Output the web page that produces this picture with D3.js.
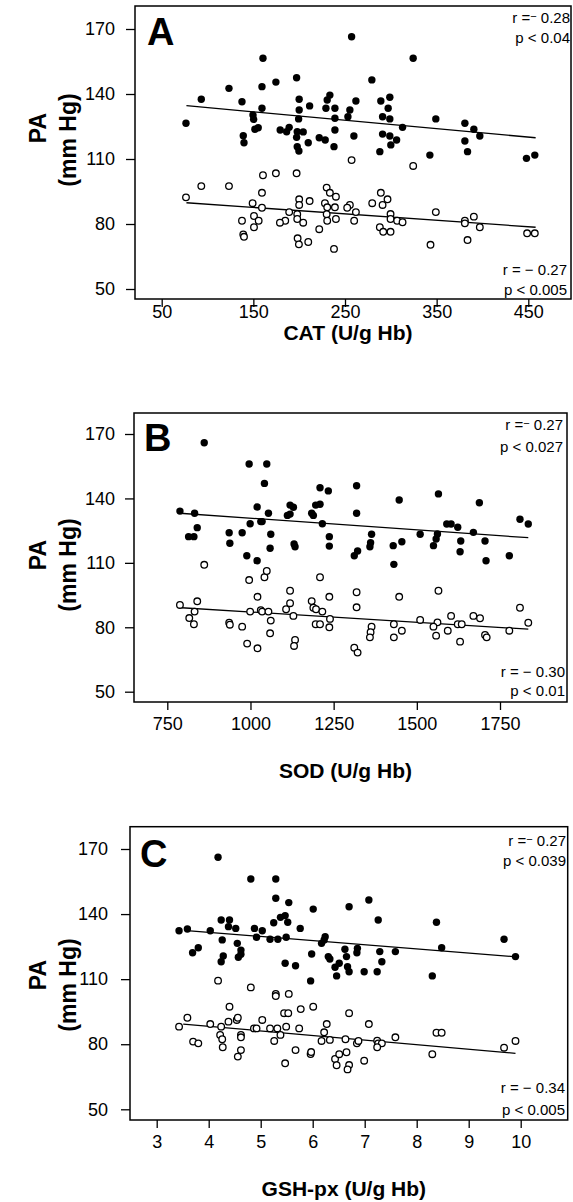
<!DOCTYPE html>
<html>
<head>
<meta charset="utf-8">
<script src="https://cdn.jsdelivr.net/npm/d3@7/dist/d3.min.js"></script>
<style>
  html, body { margin: 0; padding: 0; background: #fff; }
  svg { display: block; }
  text { font-family: "Liberation Sans", Arial, Helvetica, sans-serif; fill: #000; }
</style>
</head>
<body>
<svg id="chart" width="573" height="1202"></svg>
<script>
// Pulse amplitude (PA) against antioxidant enzyme activity.
// Filled dots: upper PA group, open circles: lower PA group.

const yTicks = [50, 80, 110, 140, 170];
const catTicks = [50, 150, 250, 350, 450];
const sodTicks = [750, 1000, 1250, 1500, 1750];
const gshTicks = [3, 4, 5, 6, 7, 8, 9, 10];

// CAT (U/g Hb) vs PA (mm Hg)
const catHigh = [
  [76.5,126.5],[93.2,137.6],[123.4,142.6],[137.6,136.4],[160.5,156.5],[159.4,143.4],[159.4,133.4],
  [149.6,130.3],[150.3,128.3],[151.7,123.7],[155.3,124.4],[139,120.7],[139.8,117.5],[174.6,145.5],
  [197.2,147.5],[200,137.6],[200,132.6],[199.4,128.5],[211.4,134.5],[179.3,123.4],[186.3,122.6],
  [189.1,124.6],[197.9,122.6],[204.4,122.5],[197.2,120],[197.9,115.7],[199.7,113.7],[209.9,117.5],
  [221.9,119.8],[228.4,118.8],[233.5,139.5],[230.6,137.2],[229.2,133.4],[239,133.4],[261.9,136.8],
  [255.3,132.6],[253.2,129.5],[239,128.8],[239,123.4],[257.2,166.4],[324.4,156.5],[279.3,146.5],
  [289.1,136.8],[298.9,138.5],[297.1,133.4],[291,129.5],[298.9,128.5],[312.8,124.6],[349.1,128.5],
  [380.8,126.5],[390.6,123.7],[397.1,120.6],[380.8,118.3],[383.7,113.4],[291,121.5],[298.9,120.6],
  [306.3,118.8],[300,116.5],[288,113.4],[259.7,120.6],[238,115.7],[342.6,111.8],[448,110.3],[457.1,111.8]
];
const catLow = [
  [76.5,92.3],[93.2,97.5],[123.4,97.5],[137.6,81.5],[139,75.2],[139.8,74.1],[149.2,89.6],[150.7,83.7],
  [155.8,81.5],[150.7,78.5],[159.4,94.4],[160.5,102.5],[159.4,87.5],[174.6,103.4],[197.2,103.4],
  [200,91.4],[200,88.8],[189.1,85.5],[197.9,84.5],[197.9,82.3],[204.4,80.6],[184.8,81.5],[179,80.6],
  [211.4,90.6],[198.3,73.4],[199.7,70.6],[209.9,71.7],[221.9,77.6],[230,96.8],[233.5,94.4],[240.1,92.6],
  [228.1,89.6],[230.6,87.7],[239,87.7],[230,84.5],[240.1,82.3],[230.6,81.5],[238,68.5],[255.3,88.8],
  [252.4,87.5],[261.9,85.5],[260,81.5],[257.2,109.5],[324.4,106.8],[289.1,94.4],[296.4,91.4],
  [279.7,89.6],[291,88.8],[299.7,84.6],[299.7,82.3],[306.9,81.5],[312.8,80.8],[288,78.5],[291.7,76.4],
  [299.7,76.4],[349.1,85.5],[343.3,70.4],[380.8,81.5],[380.8,80.3],[390.6,83.4],[397.1,78.5],
  [383.7,72.6],[448.7,75.7],[457.1,75.7]
];
const catFitHigh = [[77, 134.6], [458, 119.8]];
const catFitLow = [[77, 89.8], [458, 78.5]];

// SOD (U/g Hb) vs PA (mm Hg)
const sodHigh = [
  [861,165.9],[788,134.1],[832,133.1],[840,126.4],[814,122.2],[830,122.2],[936,124],[938,119.1],
  [975,124],[996,156],[1049,156],[1042,147],[1020,136],[999,128.2],[1031,129.2],[1035,129.2],
  [1054,133.1],[1061,123.3],[1059,116.8],[1119,136.9],[1129,135.9],[1111,132.1],[1119,132.7],
  [1131,118.8],[1134,117.5],[1209,145],[1196,136.9],[1209,137.3],[1184,133.1],[1189,132.1],
  [1216,128.2],[1234,143.5],[1237,122.2],[1237,117.8],[989,113.3],[1020,111],[1319,145.9],
  [1319,133.1],[1447,139.3],[1565,142.1],[1688,138],[1810,130.3],[1835,128.1],[1364,123.3],
  [1361,119.4],[1359,117.5],[1322,115.5],[1312,113.3],[1429,118],[1455,119.8],[1510,123.3],
  [1562,123.4],[1558,121.1],[1550,118],[1590,128.1],[1603,128.1],[1623,126.6],[1632,120.2],
  [1670,124.2],[1705,120.2],[1431,109.3],[1630,115.2],[1708,111],[1778,113.3]
];
const sodLow = [
  [788,90.4],[832,87.3],[816,84.3],[830,81.4],[840,92.1],[861,109.1],[936,82.1],[938,81.2],[975,80.3],
  [996,102],[999,87.3],[990,72.4],[1021,70.2],[1021,94.2],[1042,103.3],[1049,106.2],[1031,88],
  [1035,87.3],[1054,87.3],[1061,83.1],[1059,77.2],[1107,88.4],[1119,91.2],[1119,97],[1129,85.3],
  [1134,74.1],[1131,71.3],[1209,103.3],[1184,92.2],[1189,89.1],[1197,88.4],[1216,87.3],[1196,81.4],
  [1209,81.4],[1237,94.2],[1239,83.9],[1237,80],[1319,96.3],[1319,89.3],[1312,70.5],[1322,68.2],
  [1364,80.3],[1361,77.7],[1359,75.3],[1447,94.2],[1431,81.4],[1455,78.4],[1431,75.3],[1510,83.4],
  [1565,97],[1562,82.3],[1550,80.3],[1558,76.1],[1593,78.4],[1603,85.3],[1623,81.4],[1635,81.4],
  [1630,73.3],[1670,85.3],[1690,84.2],[1705,76.4],[1710,75.3],[1778,78.4],[1810,89.1],[1835,82.1]
];
const sodFitHigh = [[788, 133.1], [1835, 121.7]];
const sodFitLow = [[793, 89.1], [1835, 79.1]];

// GSH-px (U/g Hb) vs PA (mm Hg)
const gshHigh = [
  [4.18,166.2],[4.81,156.2],[5.29,156.2],[5.29,147.3],[5.54,145.3],[6.01,142.3],[3.43,132.3],
  [3.59,133.1],[4.03,132.3],[4.24,137.3],[4.40,137.3],[4.38,134.2],[4.52,133.4],[4.26,128.1],
  [3.69,122.2],[3.80,124.5],[4.55,126.5],[4.62,123.4],[4.62,121.5],[4.57,120.1],[4.28,120.7],
  [4.88,133.4],[5.03,132.3],[4.92,129.3],[5.25,136],[5.38,138.5],[5.47,139.3],[5.52,136.2],
  [5.18,128.4],[5.33,128.4],[5.49,129.3],[5.76,133.4],[5.98,121.6],[6.17,126.5],[6.24,129.6],
  [6.22,128.1],[6.30,120.4],[4.24,118],[5.47,117.3],[5.67,116.2],[5.96,109.2],[6.33,119.3],
  [6.43,115.5],[6.51,117.3],[6.46,111.5],[6.65,120.4],[6.67,115.7],[6.70,113.4],[6.85,122.2],
  [6.99,113.4],[7.24,113.4],[7.33,118],[7.29,122.7],[7.59,122.7],[8.30,111.5],[9.90,120.4],
  [6.70,143.4],[7.08,146.5],[7.26,137.3],[8.38,136.2],[9.68,128.4],[6.62,123.8],[6.86,124.2],[8.48,124.5]
];
const gshLow = [
  [3.43,88.1],[3.59,92.2],[4.03,89.3],[4.18,109.3],[4.24,88.1],[4.22,84.3],[4.26,82.3],[4.27,78.6],
  [3.70,81.2],[3.80,80.4],[4.40,97.3],[4.38,90.4],[4.54,91.2],[4.56,92.2],[4.62,84.3],[4.62,83.2],
  [4.62,77.3],[4.56,74.3],[4.81,106.2],[4.87,87.3],[4.92,87.3],[5.03,91.2],[5.18,87.3],[5.32,87.3],
  [5.38,84.3],[5.49,88.1],[5.26,81.5],[5.29,103.2],[5.29,102.2],[5.54,103.2],[5.45,94.3],[5.53,94.3],
  [5.47,71.2],[5.67,77.3],[5.74,87.3],[5.77,96.2],[6.01,97.3],[5.96,75.5],[5.97,76.4],[6.17,81.5],
  [6.22,85.5],[6.27,89.3],[6.33,82],[6.43,73.2],[6.51,75.4],[6.46,70.3],[6.63,82.3],[6.65,76.3],
  [6.70,94.3],[6.70,70.4],[6.67,68.4],[6.85,80.4],[6.88,81.5],[6.99,72.4],[7.08,89.3],[7.24,81.6],
  [7.26,80.4],[7.33,80.4],[7.24,78.6],[7.59,83.2],[8.30,75.4],[8.38,85.3],[8.48,85.3],[9.68,78.4],[9.90,81.5]
];
const gshFitHigh = [[3.64, 132.3], [9.86, 120.4]];
const gshFitLow = [[3.51, 89.3], [9.90, 75.8]];

// Correlation annotations: [r, p] for the upper and lower groups
const catStats = [["0.28", "p < 0.04"], ["0.27", "p < 0.005"]];
const sodStats = [["0.27", "p < 0.027"], ["0.30", "p < 0.01"]];
const gshStats = [["0.27", "p < 0.039"], ["0.34", "p < 0.005"]];

const svg = d3.select("#chart");
const TICK_FONT = 18;
const TITLE_FONT = 21;
const YTITLE_FONT = 23;
const STAT_FONT = 15;

const panels = [
  { letter: "A", title: "CAT (U/g Hb)", high: catHigh, low: catLow, fitHigh: catFitHigh, fitLow: catFitLow,
    stats: catStats, xTicks: catTicks,
    box: { l: 135, t: 6, r: 571, b: 299 }, xPix: [161.7, 528.3], yPix: [289, 29], yPad: 11,
    xLabelY: 318, xTitleY: 340, paY: 128, mmY: 140,
    statTop: [23, 43], statBot: [275, 295], statRight: [570, 567], letterPos: [147, 45] },
  { letter: "B", title: "SOD (U/g Hb)", high: sodHigh, low: sodLow, fitHigh: sodFitHigh, fitLow: sodFitLow,
    stats: sodStats, xTicks: sodTicks,
    box: { l: 134, t: 413, r: 567, b: 702 }, xPix: [167.3, 500], yPix: [691.7, 434], yPad: 10,
    xLabelY: 730, xTitleY: 778, paY: 555, mmY: 565,
    statTop: [430, 451.7], statBot: [676.7, 696], statRight: [563, 565], letterPos: [144, 451] },
  { letter: "C", title: "GSH-px (U/g Hb)", high: gshHigh, low: gshLow, fitHigh: gshFitHigh, fitLow: gshFitLow,
    stats: gshStats, xTicks: gshTicks,
    box: { l: 130, t: 826.7, r: 567.7, b: 1120 }, xPix: [156.7, 520.7], yPix: [1109.3, 849], yPad: 13,
    xLabelY: 1148, xTitleY: 1196, paY: 975, mmY: 985,
    statTop: [845.7, 865.7], statBot: [1093, 1115], statRight: [566, 565], letterPos: [140, 866.7] }
];

panels.forEach(p => {
  const xt = p.xTicks;
  const x = d3.scaleLinear().domain([xt[0], xt[xt.length - 1]]).range(p.xPix);
  const y = d3.scaleLinear().domain([yTicks[0], yTicks[yTicks.length - 1]]).range(p.yPix);
  const g = svg.append("g");
  const b = p.box;

  // frame
  g.append("rect").attr("x", b.l).attr("y", b.t).attr("width", b.r - b.l).attr("height", b.b - b.t)
    .attr("fill", "none").attr("stroke", "#000").attr("stroke-width", 1.5);

  // y axis
  const yAxis = d3.axisLeft(y).tickValues(yTicks).tickSize(9).tickPadding(p.yPad).tickFormat(d3.format("d"));
  const ya = g.append("g").attr("transform", `translate(${b.l},0)`).call(yAxis);
  ya.select(".domain").remove();
  ya.selectAll("line").attr("stroke-width", 1.3);
  ya.selectAll("text").attr("font-size", TICK_FONT).attr("font-family", "Liberation Sans, Arial, sans-serif");

  // x axis
  const xAxis = d3.axisBottom(x).tickValues(xt).tickSize(8).tickPadding(0).tickFormat(d3.format("d"));
  const xa = g.append("g").attr("transform", `translate(0,${b.b})`).call(xAxis);
  xa.select(".domain").remove();
  xa.selectAll("line").attr("stroke-width", 1.3);
  xa.selectAll("text").attr("font-size", TICK_FONT).attr("font-family", "Liberation Sans, Arial, sans-serif")
    .attr("dy", null).attr("y", p.xLabelY - b.b);

  // axis titles
  g.append("text").attr("x", (b.l + b.r) / 2 - 5).attr("y", p.xTitleY).attr("text-anchor", "middle")
    .attr("font-size", TITLE_FONT).attr("font-weight", "bold").text(p.title);
  g.append("text").attr("transform", `translate(46,${p.paY}) rotate(-90)`).attr("text-anchor", "middle")
    .attr("font-size", YTITLE_FONT).attr("font-weight", "bold").text("PA");
  g.append("text").attr("transform", `translate(76,${p.mmY}) rotate(-90)`).attr("text-anchor", "middle")
    .attr("font-size", YTITLE_FONT).attr("font-weight", "bold").text("(mm Hg)");

  // panel letter
  g.append("text").attr("x", p.letterPos[0]).attr("y", p.letterPos[1])
    .attr("font-size", 38).attr("font-weight", "bold").text(p.letter);

  // regression lines
  const line = d3.line().x(d => x(d[0])).y(d => y(d[1]));
  [p.fitHigh, p.fitLow].forEach(f => {
    g.append("path").attr("d", line(f)).attr("fill", "none").attr("stroke", "#000").attr("stroke-width", 1.3);
  });

  // points
  g.append("g").selectAll("circle").data(p.low).join("circle")
    .attr("cx", d => x(d[0])).attr("cy", d => y(d[1])).attr("r", 3.3)
    .attr("fill", "#fff").attr("stroke", "#000").attr("stroke-width", 1.3);
  g.append("g").selectAll("circle").data(p.high).join("circle")
    .attr("cx", d => x(d[0])).attr("cy", d => y(d[1])).attr("r", 3.7)
    .attr("fill", "#000");

  // correlation annotations
  const top = g.append("text").attr("x", p.statRight[0]).attr("y", p.statTop[0])
    .attr("text-anchor", "end").attr("font-size", STAT_FONT);
  top.append("tspan").text("r =");
  top.append("tspan").attr("dy", -3).attr("font-size", 11).text("\u2212");
  top.append("tspan").attr("dy", 3).text(" " + p.stats[0][0]);
  g.append("text").attr("x", p.statRight[0]).attr("y", p.statTop[1])
    .attr("text-anchor", "end").attr("font-size", STAT_FONT).text(p.stats[0][1]);

  g.append("text").attr("x", p.statRight[1]).attr("y", p.statBot[0])
    .attr("text-anchor", "end").attr("font-size", STAT_FONT).text("r = \u2212 " + p.stats[1][0]);
  g.append("text").attr("x", p.statRight[1]).attr("y", p.statBot[1])
    .attr("text-anchor", "end").attr("font-size", STAT_FONT).text(p.stats[1][1]);
});
</script>
</body>
</html>
